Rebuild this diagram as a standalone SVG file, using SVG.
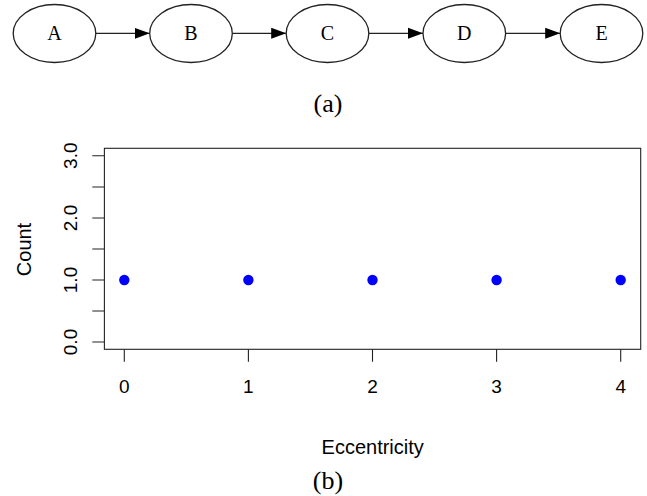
<svg xmlns="http://www.w3.org/2000/svg" width="647" height="496" viewBox="0 0 647 496">
<style>
.node ellipse{fill:#fff;stroke:#222;stroke-width:1.3}
.node text{font-family:"Liberation Serif","Times New Roman",serif;font-size:20px;fill:#000;text-anchor:middle}
.edge{stroke:#222;stroke-width:1.3;fill:none;marker-end:url(#ah)}
.cap{font-family:"Liberation Serif","Times New Roman",serif;font-size:26px;fill:#000;text-anchor:middle}
.ax{stroke:#222;stroke-width:1.1;fill:none}
.tl{font-family:"Liberation Sans",Arial,sans-serif;font-size:19px;fill:#000;text-anchor:middle}
.at{font-family:"Liberation Sans",Arial,sans-serif;font-size:20px;fill:#000;text-anchor:middle}
.pt{fill:#0000ff}
</style>
<defs>
<marker id="ah" markerUnits="userSpaceOnUse" markerWidth="16" markerHeight="12" refX="15" refY="6" orient="auto">
<path d="M0,0.5 L15,6 L0,11.5 Z" fill="#000"/>
</marker>
</defs>
<rect width="647" height="496" fill="#fff"/>
<g id="connectors">
<line class="edge" x1="95.8" y1="33.3" x2="149.7" y2="33.3"/>
<line class="edge" x1="232.3" y1="33.3" x2="286.2" y2="33.3"/>
<line class="edge" x1="368.8" y1="33.3" x2="423" y2="33.3"/>
<line class="edge" x1="505.6" y1="33.3" x2="560.2" y2="33.3"/>
</g>
<g id="node-A" class="node"><ellipse cx="54.5" cy="33.5" rx="41.3" ry="29"/><text x="54.5" y="39.5">A</text></g>
<g id="node-B" class="node"><ellipse cx="191" cy="33.5" rx="41.3" ry="29"/><text x="191" y="39.5">B</text></g>
<g id="node-C" class="node"><ellipse cx="327.5" cy="33.5" rx="41.3" ry="29"/><text x="327.5" y="39.5">C</text></g>
<g id="node-D" class="node"><ellipse cx="464.3" cy="33.5" rx="41.3" ry="29"/><text x="464.3" y="39.5">D</text></g>
<g id="node-E" class="node"><ellipse cx="601.5" cy="33.5" rx="41.3" ry="29"/><text x="601.5" y="39.5">E</text></g>
<text class="cap" x="328" y="112">(a)</text>
<g id="plot">
<rect class="ax" x="104.4" y="148.3" width="536.3" height="201"/>
<path class="ax" d="M92.3,342H104.4M92.3,311H104.4M92.3,280H104.4M92.3,249H104.4M92.3,218H104.4M92.3,187H104.4M92.3,155.7H104.4"/>
<path class="ax" d="M124.3,349.3V361.7M248.4,349.3V361.7M372.5,349.3V361.7M496.6,349.3V361.7M620.7,349.3V361.7"/>
<text class="tl" transform="translate(77.3,342) rotate(-90)">0.0</text>
<text class="tl" transform="translate(77.3,280) rotate(-90)">1.0</text>
<text class="tl" transform="translate(77.3,218) rotate(-90)">2.0</text>
<text class="tl" transform="translate(77.3,155.7) rotate(-90)">3.0</text>
<text class="tl" x="124.3" y="393.3">0</text>
<text class="tl" x="248.4" y="393.3">1</text>
<text class="tl" x="372.5" y="393.3">2</text>
<text class="tl" x="496.6" y="393.3">3</text>
<text class="tl" x="620.7" y="393.3">4</text>
<text class="at" transform="translate(30.7,249.5) rotate(-90)">Count</text>
<text class="at" x="372.7" y="453.5">Eccentricity</text>
<circle class="pt" cx="124.3" cy="280" r="5.2"/>
<circle class="pt" cx="248.4" cy="280" r="5.2"/>
<circle class="pt" cx="372.5" cy="280" r="5.2"/>
<circle class="pt" cx="496.6" cy="280" r="5.2"/>
<circle class="pt" cx="620.7" cy="280" r="5.2"/>
</g>
<text class="cap" x="328" y="488.5">(b)</text>
</svg>
